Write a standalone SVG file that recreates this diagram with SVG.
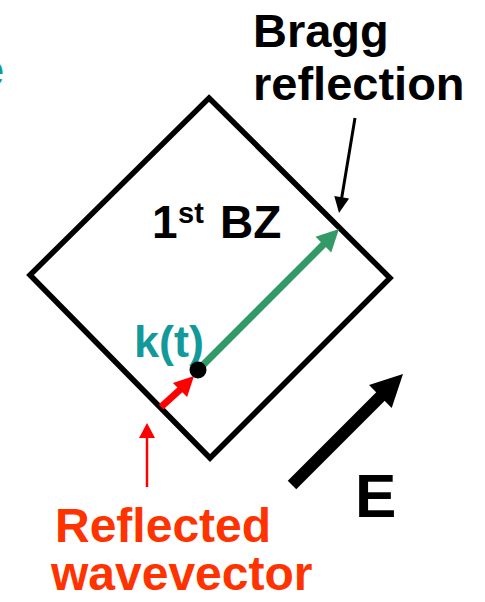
<svg xmlns="http://www.w3.org/2000/svg" width="485" height="602" viewBox="0 0 485 602">
<style>
  text { font-family: "Liberation Sans", Arial, sans-serif; font-weight: bold; }
  .blk { fill: #000; }
  .teal { fill: #129A9A; }
  .orange { fill: #FF3300; }
  .bz { fill: none; stroke: #000; stroke-width: 5.5; stroke-linejoin: miter; }
</style>
<rect width="485" height="602" fill="#fff"/>
<g id="edge-label-e"><text x="4" y="86" font-size="46" class="teal" text-anchor="end">e</text></g>
<g id="brillouin-zone">
  <polygon class="bz" points="209,98 390,278 210,458 30,275"/>
  <text x="152" y="238" font-size="46" class="blk">1</text>
  <text x="178" y="223" font-size="29" class="blk">st</text>
  <text x="220" y="238" font-size="46" class="blk">BZ</text>
</g>
<g id="bragg-label">
  <text x="253" y="47" font-size="47" class="blk">Bragg</text>
  <text x="253" y="100" font-size="47" class="blk">reflection</text>
</g>
<g id="kt-label"><text x="134" y="357" font-size="45" class="teal">k(t)</text></g>
<g id="field-label"><text x="355" y="517" font-size="62" class="blk">E</text></g>
<g id="reflected-label">
  <text x="55" y="542" font-size="48" class="orange">Reflected</text>
  <text x="51" y="590" font-size="48" class="orange">wavevector</text>
</g>
<g id="connectors">
  <line x1="198" y1="370" x2="325" y2="243" stroke="#339966" stroke-width="7"/>
  <polygon points="339,229 315.6,236.8 331.2,252.4" fill="#339966"/>
  <line x1="161" y1="407" x2="183" y2="387" stroke="#FF0000" stroke-width="7"/>
  <polygon points="194,376 172.9,382.9 187.1,397.1" fill="#FF0000"/>
  <circle cx="198" cy="370" r="8.5" fill="#000"/>
  <line x1="355" y1="118" x2="341.5" y2="199" stroke="#000" stroke-width="3"/>
  <polygon points="339,213 349.1,198.5 334.3,196" fill="#000"/>
  <line x1="292" y1="485" x2="384" y2="393" stroke="#000" stroke-width="12"/>
  <polygon points="403,374 369,385 391.7,407.9" fill="#000"/>
  <line x1="147" y1="487" x2="147" y2="436" stroke="#FF0000" stroke-width="2.5"/>
  <polygon points="147,423 139,438 155,438" fill="#FF0000"/>
</g>
</svg>
